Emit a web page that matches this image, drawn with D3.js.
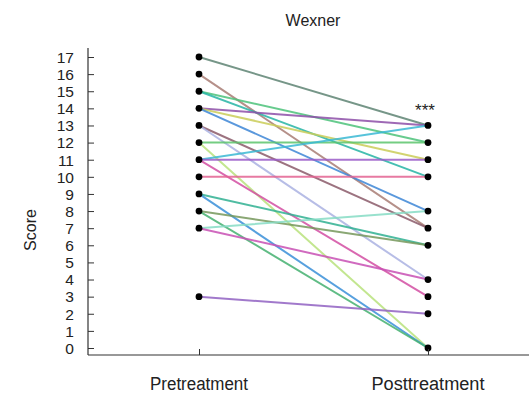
<!DOCTYPE html>
<html><head><meta charset="utf-8">
<script src="https://cdn.jsdelivr.net/npm/d3@7/dist/d3.min.js"></script>
<style>
body{margin:0;background:#fff;}
text{font-family:"Liberation Sans Narrow","Arial Narrow","Liberation Sans",Arial,sans-serif;fill:#222;}
</style></head>
<body><svg id="chart" width="529" height="414"></svg>
<script>
const categories = ["Pretreatment", "Posttreatment"];
const yTicks = d3.range(0, 18);
const preScores  = [17, 16, 15, 15, 14, 14, 14, 13, 13, 12, 12, 11, 11, 11, 10, 9, 9, 8, 8, 7, 7, 3];
const postScores = [13,  7, 12, 10, 13, 11,  8,  7,  4, 12,  0, 13, 11,  3, 10, 6, 0, 6, 0, 8, 4, 2];
const lineColors = ["#5e8473","#a87c74","#4cc27a","#26b4a4","#8d4fa8","#cacc58","#3d86d6","#8b5a6a","#aab2e2","#5cc46c","#b8e27c","#3ab8d4","#9a5cc8","#d24ea2","#e36392","#30b092","#3a8fd8","#76985c","#44b070","#86dcc4","#c850b4","#9062c2"];
const title = "Wexner";
const yLabel = "Score";
const sigLabel = "***";

const svg = d3.select("#chart");
const x = d3.scalePoint().domain(categories).range([199, 428]);
const y = d3.scaleLinear().domain([0, 17]).range([348, 57]);
const axisY = 355, axisX = 88;

// lines
const pairs = preScores.map((p, i) => ({pre: p, post: postScores[i], c: lineColors[i]}));
svg.append("g").selectAll("line").data(pairs).join("line")
  .attr("x1", x(categories[0])).attr("x2", x(categories[1]))
  .attr("y1", d => y(d.pre)).attr("y2", d => y(d.post))
  .attr("stroke", d => d.c).attr("stroke-width", 2).attr("stroke-opacity", 0.85)
  .attr("stroke-linecap", "round");

// dots
const preU = Array.from(new Set(preScores));
const postU = Array.from(new Set(postScores));
const dots = preU.map(v => ({c: categories[0], v})).concat(postU.map(v => ({c: categories[1], v})));
svg.append("g").selectAll("circle").data(dots).join("circle")
  .attr("cx", d => x(d.c)).attr("cy", d => y(d.v)).attr("r", 3.4).attr("fill", "#000");

// y axis
const yAxis = d3.axisRight(y).tickValues(yTicks).tickSize(6).tickFormat(d3.format("d"));
const gy = svg.append("g").attr("transform", `translate(${axisX},0)`).call(yAxis);
gy.select(".domain").remove();
gy.selectAll(".tick line").attr("stroke", "#333");
gy.selectAll(".tick text")
  .attr("x", 0).attr("text-anchor", "end").attr("font-size", 14.8).attr("dy", "0.36em")
  .attr("transform", "translate(-14,0) scale(1.05,1)")
  .style("fill", "#222");
svg.append("line").attr("x1", axisX).attr("x2", axisX).attr("y1", 48).attr("y2", axisY).attr("stroke", "#333").attr("stroke-width", 1.2);

// x axis
const xAxis = d3.axisTop(x).tickSize(6).tickFormat("");
const gx = svg.append("g").attr("transform", `translate(0,${axisY})`).call(xAxis);
gx.select(".domain").remove();
gx.selectAll(".tick line").attr("stroke", "#333");
svg.append("line").attr("x1", axisX).attr("x2", 529).attr("y1", axisY).attr("y2", axisY).attr("stroke", "#333").attr("stroke-width", 1.2);
svg.append("g").selectAll("text").data(categories).join("text")
  .attr("x", d => x(d)).attr("y", 390).attr("text-anchor", "middle").attr("font-size", 18)
  .attr("textLength", (d, i) => i === 0 ? 98 : 113).attr("lengthAdjust", "spacingAndGlyphs")
  .text(d => d);

// labels
svg.append("text").attr("x", 313).attr("y", 26).attr("text-anchor", "middle").attr("font-size", 16).text(title);
svg.append("text").attr("transform", "translate(36,230) rotate(-90)").attr("text-anchor", "middle").attr("font-size", 16).text(yLabel);
svg.append("text").attr("x", x(categories[1]) - 3).attr("y", 116).attr("text-anchor", "middle").attr("font-size", 17).text(sigLabel);
</script></body></html>
